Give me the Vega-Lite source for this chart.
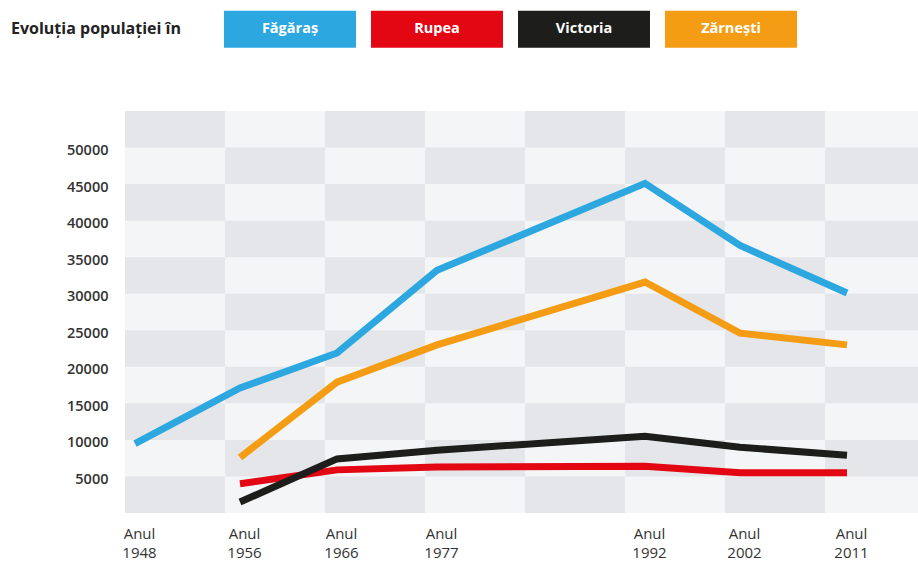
{
  "$schema": "https://vega.github.io/schema/vega-lite/v6.json",
  "width": 793,
  "height": 402,
  "autosize": {"type": "none"},
  "padding": {"left": 125, "top": 111, "right": 0, "bottom": 48},
  "background": "white",
  "config": {
    "view": {"fill": "#f4f5f6", "stroke": null},
    "font": "Open Sans"
  },
  "datasets": {
    "cells": [
      {"c":0,"r":0},{"c":0,"r":2},{"c":0,"r":4},{"c":0,"r":6},{"c":0,"r":8},{"c":0,"r":10},
      {"c":1,"r":1},{"c":1,"r":3},{"c":1,"r":5},{"c":1,"r":7},{"c":1,"r":9},
      {"c":2,"r":0},{"c":2,"r":2},{"c":2,"r":4},{"c":2,"r":6},{"c":2,"r":8},{"c":2,"r":10},
      {"c":3,"r":1},{"c":3,"r":3},{"c":3,"r":5},{"c":3,"r":7},{"c":3,"r":9},
      {"c":4,"r":0},{"c":4,"r":2},{"c":4,"r":4},{"c":4,"r":6},{"c":4,"r":8},{"c":4,"r":10},
      {"c":5,"r":1},{"c":5,"r":3},{"c":5,"r":5},{"c":5,"r":7},{"c":5,"r":9},
      {"c":6,"r":0},{"c":6,"r":2},{"c":6,"r":4},{"c":6,"r":6},{"c":6,"r":8},{"c":6,"r":10},
      {"c":7,"r":1},{"c":7,"r":3},{"c":7,"r":5},{"c":7,"r":7},{"c":7,"r":9}
    ],
    "pop": [
      {"oras":"Făgăraș","an":1948,"populatie":9500},
      {"oras":"Făgăraș","an":1956,"populatie":17100},
      {"oras":"Făgăraș","an":1966,"populatie":21900},
      {"oras":"Făgăraș","an":1977,"populatie":33200},
      {"oras":"Făgăraș","an":1992,"populatie":45100},
      {"oras":"Făgăraș","an":2002,"populatie":36600},
      {"oras":"Făgăraș","an":2011,"populatie":30100},
      {"oras":"Rupea","an":1956,"populatie":4000},
      {"oras":"Rupea","an":1966,"populatie":5900},
      {"oras":"Rupea","an":1977,"populatie":6300},
      {"oras":"Rupea","an":1992,"populatie":6400},
      {"oras":"Rupea","an":2002,"populatie":5500},
      {"oras":"Rupea","an":2011,"populatie":5500},
      {"oras":"Victoria","an":1956,"populatie":1500},
      {"oras":"Victoria","an":1966,"populatie":7400},
      {"oras":"Victoria","an":1977,"populatie":8600},
      {"oras":"Victoria","an":1992,"populatie":10500},
      {"oras":"Victoria","an":2002,"populatie":9000},
      {"oras":"Victoria","an":2011,"populatie":7900},
      {"oras":"Zărnești","an":1956,"populatie":7600},
      {"oras":"Zărnești","an":1966,"populatie":17900},
      {"oras":"Zărnești","an":1977,"populatie":23000},
      {"oras":"Zărnești","an":1992,"populatie":31600},
      {"oras":"Zărnești","an":2002,"populatie":24600},
      {"oras":"Zărnești","an":2011,"populatie":23000}
    ]
  },
  "layer": [
    {
      "data": {"name": "cells"},
      "mark": {"type": "rect", "color": "#e4e6e9", "clip": true},
      "encoding": {
        "x": {"field": "c", "type": "ordinal", "axis": null,
              "scale": {"range": [0, 800], "paddingInner": 0, "paddingOuter": 0}},
        "y": {"field": "r", "type": "ordinal", "axis": null, "sort": "descending",
              "scale": {"paddingInner": 0, "paddingOuter": 0}}
      }
    },
    {
      "data": {"name": "pop"},
      "mark": {"type": "line", "strokeWidth": 7, "strokeCap": "butt", "strokeJoin": "miter"},
      "encoding": {
        "x": {"field": "an", "type": "quantitative",
              "scale": {"domain": [1948, 1956, 1966, 1977, 1992, 2002, 2011],
                        "range": [10, 115, 212, 312, 520, 615, 722]},
              "axis": {"values": [1948, 1956, 1966, 1977, 1992, 2002, 2011],
                       "labelExpr": "['Anul', '' + datum.value]",
                       "title": null, "domain": false, "ticks": false, "grid": false,
                       "labelFont": "Open Sans", "labelFontSize": 15, "labelColor": "#333333",
                       "labelLineHeight": 19, "labelBaseline": "top", "labelPadding": 13,
                       "labelAlign": "center", "labelOffset": 4, "labelFlush": false, "labelOverlap": false}},
        "y": {"field": "populatie", "type": "quantitative",
              "scale": {"domain": [0, 55000], "nice": false},
              "axis": {"values": [5000, 10000, 15000, 20000, 25000, 30000, 35000, 40000, 45000, 50000],
                       "format": "d", "title": null, "domain": false, "ticks": false, "grid": false,
                       "labelFont": "Open Sans", "labelFontSize": 14.5, "labelFontWeight": 600,
                       "labelColor": "#333333", "labelPadding": 17, "labelOffset": 3}},
        "color": {"field": "oras", "type": "nominal",
                  "scale": {"domain": ["Făgăraș", "Rupea", "Victoria", "Zărnești"],
                            "range": ["#2ca7df", "#e30613", "#1d1d1b", "#f49d14"]},
                  "legend": {
                    "title": "Evoluția populației în",
                    "orient": "none", "legendX": -114, "legendY": -148,
                    "direction": "horizontal", "columns": 4, "columnPadding": 15,
                    "titleOrient": "left", "titlePadding": 43,
                    "titleFont": "Open Sans", "titleFontSize": 16, "titleFontWeight": "bold",
                    "titleColor": "#222222", "titleBaseline": "line-top", "titleLineHeight": 48,
                    "symbolType": "M-1,-0.28H1V0.28H-1Z", "symbolSize": 17424,
                    "symbolStrokeWidth": 0, "symbolOpacity": 1,
                    "labelAlign": "center", "labelOffset": -66, "labelColor": "white",
                    "labelFont": "Open Sans", "labelFontSize": 14.5, "labelFontWeight": "bold",
                    "encode": {"symbols": {"update": {"fill": {"scale": "color", "field": "value"}, "strokeWidth": {"value": 0}, "opacity": {"value": 1}}}}
                  }}
      }
    }
  ],
  "resolve": {"scale": {"x": "independent", "y": "independent"}}
}
